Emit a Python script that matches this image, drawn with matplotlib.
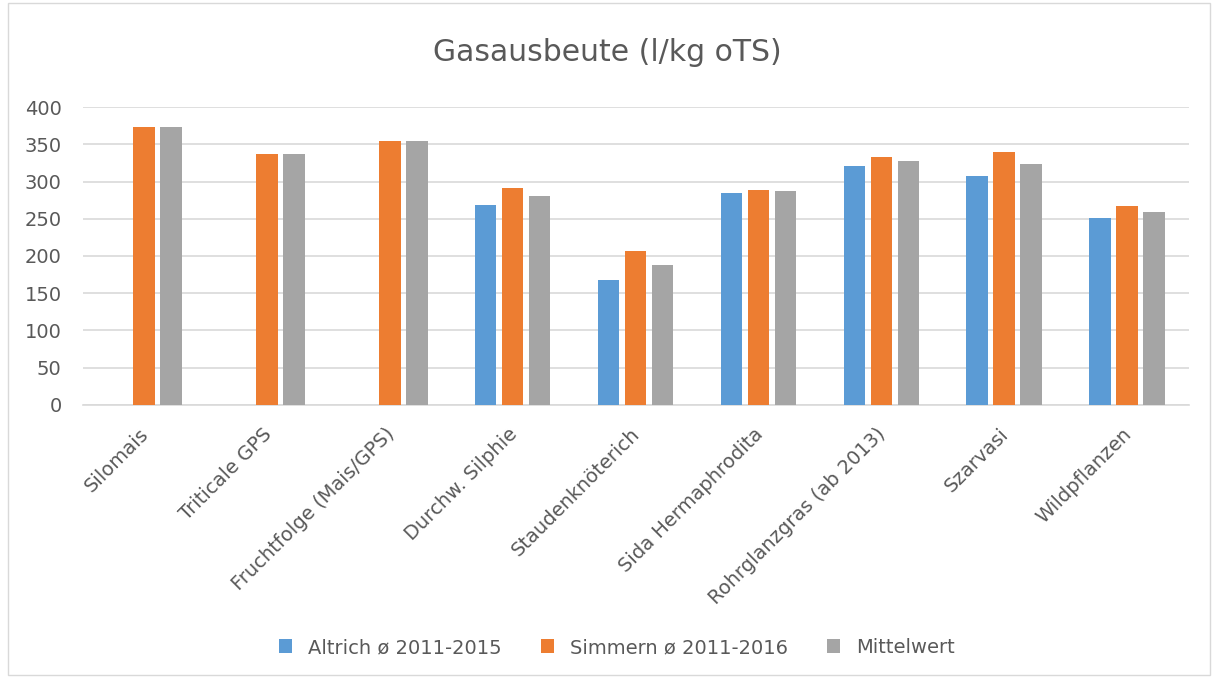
import numpy as np
import matplotlib.pyplot as plt
from matplotlib.patches import Rectangle
from matplotlib.transforms import ScaledTranslation

categories = ['Silomais', 'Triticale GPS', 'Fruchtfolge (Mais/GPS)', 'Durchw. Silphie',
              'Staudenknöterich', 'Sida Hermaphrodita', 'Rohrglanzgras (ab 2013)',
              'Szarvasi', 'Wildpflanzen']
altrich = [np.nan, np.nan, np.nan, 269, 168, 285, 321, 307, 251]
simmern = [373, 337, 355, 291, 207, 289, 333, 340, 267]
mittel = [373, 337, 355, 280, 188, 287, 327, 324, 259]
labels = ['Altrich ø 2011-2015', 'Simmern ø 2011-2016', 'Mittelwert']
colors = ['#5B9BD5', '#ED7D31', '#A5A5A5']
text_col = '#595959'

fig = plt.figure(figsize=(12.14, 6.78), dpi=100)
ax = fig.add_axes([0.068, 0.403, 0.911, 0.439])

x = np.arange(len(categories))
w = 0.175
step = 0.22
for i, (vals, lab, c) in enumerate(zip([altrich, simmern, mittel], labels, colors)):
    ax.bar(x + (i - 1) * step, vals, width=w, color=c, label=lab, zorder=3)

ax.set_xlim(-0.5, len(categories) - 0.5)
ax.set_ylim(0, 400)
ax.set_yticks(np.arange(0, 401, 50))
ax.grid(axis='y', color='#D9D9D9', linewidth=1.2, zorder=0)
for s in ['top', 'right', 'left']:
    ax.spines[s].set_visible(False)
ax.spines['bottom'].set_color('#D9D9D9')
ax.spines['bottom'].set_linewidth(1.2)
ax.tick_params(axis='both', length=0, colors=text_col, labelsize=14)
ax.tick_params(axis='y', pad=15)
ax.tick_params(axis='x', pad=14)
ax.set_xticks(x)
ax.set_xticklabels(categories, rotation=45, ha='right', rotation_mode='anchor')
shift = ScaledTranslation(-5 / 100, 0, fig.dpi_scale_trans)
for t in ax.get_xticklabels():
    t.set_transform(t.get_transform() + shift)

fig.text(0.5, 0.922, 'Gasausbeute (l/kg oTS)', ha='center', va='center',
         fontsize=21.5, color=text_col)

ax.legend(loc='center', bbox_to_anchor=(0.508, 0.045), bbox_transform=fig.transFigure,
          ncol=3, frameon=False, fontsize=14, labelcolor=text_col,
          handlelength=0.7, handleheight=0.7, columnspacing=2.0, handletextpad=0.8)

fig.patches.append(Rectangle((0.007, 0.004), 0.99, 0.992, transform=fig.transFigure,
                             fill=False, edgecolor='#D9D9D9', linewidth=1))

fig.savefig('out.png', dpi=100)
